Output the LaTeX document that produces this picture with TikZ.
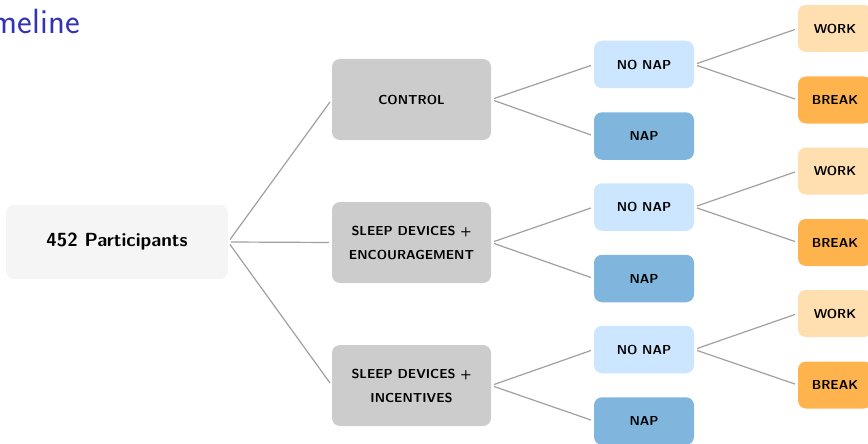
\documentclass[tikz,border=0pt]{standalone}
\definecolor{titleblue}{RGB}{51,51,179}
\definecolor{rootfill}{RGB}{245,245,245}
\definecolor{groupfill}{RGB}{204,204,204}
\definecolor{nonapfill}{RGB}{204,230,255}
\definecolor{napfill}{RGB}{128,182,222}
\definecolor{workfill}{RGB}{255,222,175}
\definecolor{breakfill}{RGB}{255,179,77}
\definecolor{linkgray}{RGB}{160,160,160}
\tikzset{
  basebox/.style={rounded corners=8pt, inner sep=0pt, align=center, text=black,
    font=\sffamily\bfseries\fontsize{13}{24}\selectfont},
  rootbox/.style={basebox, fill=rootfill, minimum width=222pt, minimum height=74pt,
    font=\sffamily\bfseries\fontsize{19}{24}\selectfont},
  groupbox/.style={basebox, fill=groupfill, minimum width=159pt, minimum height=81pt},
  nonapbox/.style={basebox, fill=nonapfill, minimum width=100pt, minimum height=47.5pt},
  napbox/.style={basebox, fill=napfill, minimum width=100pt, minimum height=47.5pt},
  workbox/.style={basebox, fill=workfill, minimum width=74pt, minimum height=47pt},
  breakbox/.style={basebox, fill=breakfill, minimum width=74pt, minimum height=47pt},
  link/.style={draw=linkgray, line width=1.2pt, shorten <=3pt, shorten >=3pt},
}
\begin{document}
\begin{tikzpicture}[x=1pt,y=-1pt]
\useasboundingbox (0,0) rectangle (868,444);
\clip (0,0) rectangle (868,444);
\node[anchor=base east, text=titleblue, inner sep=0pt,
  font=\sffamily\fontsize{35}{40}\selectfont] (title) at (80,34) {meline};

\node[rootbox] (root) at (117,242) {452 Participants};

\node[groupbox] (g1) at (411.5,99.5) {CONTROL};
\node[groupbox] (g2) at (411.5,242.5) {SLEEP DEVICES +\\ENCOURAGEMENT};
\node[groupbox] (g3) at (411.5,385.5) {SLEEP DEVICES +\\INCENTIVES};

\foreach \i/\dy in {1/0,2/142.5,3/285}{
  \node[nonapbox] (nn\i) at (644,64.5+\dy) {NO NAP};
  \node[napbox] (na\i) at (644,136+\dy) {NAP};
  \node[workbox] (w\i) at (835,28.5+\dy) {WORK};
  \node[breakbox] (b\i) at (835,100+\dy) {BREAK};
}

\foreach \i in {1,2,3}{
  \draw[link] (root.east) -- (g\i.west);
  \draw[link] (g\i.east) -- (nn\i.west);
  \draw[link] (g\i.east) -- (na\i.west);
  \draw[link] (nn\i.east) -- (w\i.west);
  \draw[link] (nn\i.east) -- (b\i.west);
}
\end{tikzpicture}
\end{document}
